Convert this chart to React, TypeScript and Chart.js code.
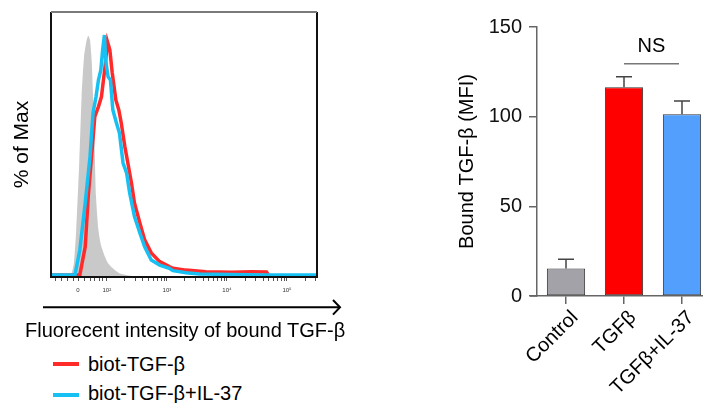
import React, { useEffect, useRef } from "react";
import { Chart, registerables } from "chart.js";
Chart.register(...registerables);

const FONT = "'Liberation Sans', Arial, Helvetica, sans-serif";

// ---- Histogram data (x in displayed log-decade units, y in % of Max) ----
const controlX = [1.40, 1.45, 1.49, 1.54, 1.58, 1.62, 1.66, 1.69, 1.72, 1.75, 1.79, 1.82, 1.86, 1.91, 2.02, 2.21, 2.49];
const controlY = [0, 5, 17.7, 42.9, 68, 83.1, 89, 91, 89.4, 80.6, 55.5, 30.3, 17.7, 11.4, 5.2, 1.4, 0];

const tgfX = [1.07, 1.55, 1.64, 1.69, 1.75, 1.80, 1.86, 1.91, 1.97, 2.01, 2.05, 2.09, 2.15, 2.20, 2.24, 2.30, 2.35, 2.41, 2.46, 2.55, 2.63, 2.74, 2.88, 3.04, 3.10, 3.32, 3.65, 4.08, 4.41, 4.66, 4.69];
const tgfY = [0.8, 0.8, 11.4, 30.3, 46.8, 60.5, 64.3, 68, 79.4, 88.8, 85.7, 77, 66.8, 63, 58.1, 49.2, 43, 35.5, 27.9, 20.4, 14, 9.1, 5.8, 3.9, 3.3, 2.6, 2.0, 1.8, 2.0, 1.9, 0.8];

const il37X = [1.07, 1.47, 1.55, 1.64, 1.72, 1.77, 1.82, 1.86, 1.90, 1.93, 1.96, 1.98, 2.02, 2.06, 2.10, 2.16, 2.21, 2.27, 2.33, 2.38, 2.46, 2.55, 2.63, 2.74, 2.88, 3.04, 3.10, 3.32, 3.54, 4.08, 4.64, 5.5];
const il37Y = [0.8, 0.8, 10.2, 27.9, 45.4, 61.9, 68, 74.3, 78.1, 85.7, 91.3, 81.9, 75.6, 74.3, 63, 58.1, 54.3, 43, 39.2, 31.7, 22.8, 16.6, 11.4, 6.4, 4.5, 3.3, 2.4, 1.6, 1.1, 0.9, 0.8, 0.8];

const histXMin = 1.07;
const histXMax = 5.5;
const histMajorTicks = [1.52, 2, 3, 4, 5];
const histMajorLabels = ["0", "10²", "10³", "10⁴", "10⁵"];
const histLinearMinor = [1.15, 1.25, 1.35, 1.45, 1.62, 1.72, 1.8, 1.87, 1.93];

const legendLabels = ["biot-TGF-β", "biot-TGF-β+IL-37"];
const histXTitle = "Fluorecent intensity of bound TGF-β";
const histYTitle = "% of Max";

// ---- Bar chart data ----
const barCategories = ["Control", "TGFβ", "TGFβ+IL-37"];
const barMeans = [15.4, 116.4, 101.3];
const barErrors = [5.1, 5.9, 7.4];
const barColors = ["#a3a2a9", "#ff0000", "#539ffd"];
const barYTicks = [0, 50, 100, 150];
const barYTitle = "Bound TGF-β (MFI)";
const nsPair = [1, 2];
const nsLevel = 129.5;
const nsTextLevel = 139;
const nsLabel = "NS";

const RED = "#ff2b2b";
const BLUE = "#16c0f2";

function buildHistTicks(): number[] {
  const t: number[] = [...histMajorTicks, ...histLinearMinor];
  for (let d = 2; d <= 5; d++) {
    for (let k = 2; k <= 9; k++) {
      const v = d + Math.log10(k);
      if (v <= histXMax) t.push(v);
    }
  }
  return t.sort((a, b) => a - b);
}

const boxPlugin = {
  id: "boxFrame",
  afterDatasetsDraw(chart: any) {
    const { ctx, chartArea: a } = chart;
    ctx.save();
    ctx.lineWidth = 2;
    ctx.strokeStyle = "#111";
    ctx.beginPath();
    ctx.moveTo(a.left, a.top);
    ctx.lineTo(a.left, a.bottom);
    ctx.lineTo(a.right, a.bottom);
    ctx.lineTo(a.right, a.top);
    ctx.stroke();
    ctx.strokeStyle = "#7a7a7a";
    ctx.beginPath();
    ctx.moveTo(a.left, a.top);
    ctx.lineTo(a.right, a.top);
    ctx.stroke();
    ctx.restore();
  },
};

const errorPlugin = {
  id: "errorBars",
  afterDatasetsDraw(chart: any) {
    const { ctx, chartArea: a } = chart;
    const meta = chart.getDatasetMeta(0);
    const y = chart.scales.y;
    ctx.save();
    ctx.strokeStyle = "#444";
    ctx.lineWidth = 1.5;
    meta.data.forEach((bar: any, i: number) => {
      const top = y.getPixelForValue(barMeans[i]);
      const e = y.getPixelForValue(barMeans[i] + barErrors[i]);
      ctx.beginPath();
      ctx.moveTo(bar.x, top);
      ctx.lineTo(bar.x, e);
      ctx.moveTo(bar.x - 8, e);
      ctx.lineTo(bar.x + 8, e);
      ctx.stroke();
    });
    // extend x axis line slightly to the left
    ctx.strokeStyle = "#666";
    ctx.beginPath();
    ctx.moveTo(a.left - 7, a.bottom);
    ctx.lineTo(a.left, a.bottom);
    ctx.stroke();
    // NS annotation
    const x1 = meta.data[nsPair[0]].x;
    const x2 = meta.data[nsPair[1]].x - 3;
    const ny = y.getPixelForValue(nsLevel);
    ctx.strokeStyle = "#777";
    ctx.lineWidth = 1.5;
    ctx.beginPath();
    ctx.moveTo(x1, ny);
    ctx.lineTo(x2, ny);
    ctx.stroke();
    ctx.fillStyle = "#000";
    ctx.font = `20px ${FONT}`;
    ctx.textAlign = "center";
    ctx.textBaseline = "middle";
    ctx.fillText(nsLabel, (x1 + x2) / 2, y.getPixelForValue(nsTextLevel));
    ctx.restore();
  },
};

export default function App() {
  const histRef = useRef<HTMLCanvasElement>(null);
  const barRef = useRef<HTMLCanvasElement>(null);

  useEffect(() => {
    const allTicks = buildHistTicks();
    const hist = new Chart(histRef.current!, {
      type: "line",
      data: {
        datasets: [
          {
            label: legendLabels[1],
            data: il37X.map((x, i) => ({ x, y: il37Y[i] })),
            borderColor: BLUE,
            borderWidth: 3.5,
            pointRadius: 0,
            fill: false,
            tension: 0,
          },
          {
            label: legendLabels[0],
            data: tgfX.map((x, i) => ({ x, y: tgfY[i] })),
            borderColor: RED,
            borderWidth: 3.5,
            pointRadius: 0,
            fill: false,
            tension: 0,
          },
          {
            label: "Control",
            data: controlX.map((x, i) => ({ x, y: controlY[i] })),
            borderColor: "#c9c9c9",
            borderWidth: 0,
            backgroundColor: "#c9c9c9",
            pointRadius: 0,
            fill: "origin",
            tension: 0.2,
          },
        ],
      },
      options: {
        animation: false,
        responsive: false,
        maintainAspectRatio: false,
        layout: { padding: { top: 12, right: 23, left: 0, bottom: 0 } },
        plugins: { legend: { display: false }, tooltip: { enabled: false } },
        scales: {
          x: {
            type: "linear",
            min: histXMin,
            max: histXMax,
            afterBuildTicks: (s: any) => {
              s.ticks = allTicks.map((v) => ({ value: v }));
            },
            ticks: {
              autoSkip: false,
              maxRotation: 0,
              minRotation: 0,
              padding: 6,
              color: "#333",
              font: { size: 6, family: FONT },
              callback: (v: any) => {
                const idx = histMajorTicks.findIndex((m) => Math.abs(m - Number(v)) < 1e-6);
                return idx >= 0 ? histMajorLabels[idx] : "";
              },
            },
            grid: { drawOnChartArea: false, tickLength: 4, color: "#555", lineWidth: 1 },
            border: { display: false },
            afterFit: (s: any) => {
              s.height = 23;
            },
          },
          y: {
            min: 0,
            max: 100,
            ticks: { display: false },
            grid: { display: false },
            border: { display: false },
            title: {
              display: true,
              text: histYTitle,
              color: "#000",
              font: { size: 21, family: FONT },
              padding: { top: 10, bottom: 0 },
            },
            afterFit: (s: any) => {
              s.width = 51;
            },
          },
        },
      } as any,
      plugins: [boxPlugin],
    });

    const bar = new Chart(barRef.current!, {
      type: "bar",
      data: {
        labels: barCategories,
        datasets: [
          {
            data: barMeans,
            backgroundColor: barColors,
            borderColor: "#333",
            borderWidth: 1,
            borderSkipped: false,
            barPercentage: 0.66,
            categoryPercentage: 1,
          },
        ],
      },
      options: {
        animation: false,
        responsive: false,
        maintainAspectRatio: false,
        layout: { padding: { top: 27, right: 9, left: 0, bottom: 0 } },
        plugins: { legend: { display: false }, tooltip: { enabled: false } },
        scales: {
          x: {
            grid: { drawOnChartArea: false, offset: false, tickLength: 8, color: "#666", lineWidth: 1.5 },
            border: { display: true, color: "#666", width: 1.5 },
            ticks: {
              color: "#000",
              font: { size: 20, family: FONT },
              minRotation: 45,
              maxRotation: 45,
              autoSkip: false,
              padding: 2,
              labelOffset: 9,
            },
            afterFit: (s: any) => {
              s.height = 107;
            },
          },
          y: {
            min: 0,
            max: 150,
            afterBuildTicks: (s: any) => {
              s.ticks = barYTicks.map((v) => ({ value: v }));
            },
            grid: { drawOnChartArea: false, tickLength: 8, color: "#666", lineWidth: 1.5 },
            border: { display: true, color: "#666", width: 1.5 },
            ticks: { color: "#111", font: { size: 20, family: FONT }, padding: 7 },
            title: {
              display: true,
              text: barYTitle,
              color: "#000",
              font: { size: 20, family: FONT },
              padding: { top: 35, bottom: 0 },
            },
            afterFit: (s: any) => {
              s.width = 117;
            },
          },
        },
      } as any,
      plugins: [errorPlugin],
    });

    return () => {
      hist.destroy();
      bar.destroy();
    };
  }, []);

  const textStyle: React.CSSProperties = {
    position: "absolute",
    fontFamily: FONT,
    fontSize: 20,
    lineHeight: "24px",
    color: "#000",
    whiteSpace: "nowrap",
  };

  return (
    <div
      style={{
        position: "absolute",
        left: 0,
        top: 0,
        width: 703,
        height: 403,
        overflow: "hidden",
        background: "#fff",
      }}
    >
      <canvas
        ref={histRef}
        width={340}
        height={300}
        style={{ position: "absolute", left: 0, top: 0, width: 340, height: 300 }}
      />
      <canvas
        ref={barRef}
        width={300}
        height={403}
        style={{ position: "absolute", left: 420, top: 0, width: 300, height: 403 }}
      />
      <svg
        width={350}
        height={20}
        style={{ position: "absolute", left: 0, top: 297 }}
      >
        <line x1={43} y1={10.3} x2={340} y2={10.3} stroke="#000" strokeWidth={2} />
        <polyline points="333,3 340,10.3 333,17.6" fill="none" stroke="#000" strokeWidth={2} />
      </svg>
      <div style={{ ...textStyle, left: 25, top: 318 }}>{histXTitle}</div>
      <div style={{ position: "absolute", left: 53, top: 361.5, width: 26, height: 4, background: RED }} />
      <div style={{ ...textStyle, left: 88, top: 352.4 }}>{legendLabels[0]}</div>
      <div style={{ position: "absolute", left: 53, top: 392.5, width: 26, height: 4, background: BLUE }} />
      <div style={{ ...textStyle, left: 88, top: 381.4 }}>{legendLabels[1]}</div>
    </div>
  );
}
